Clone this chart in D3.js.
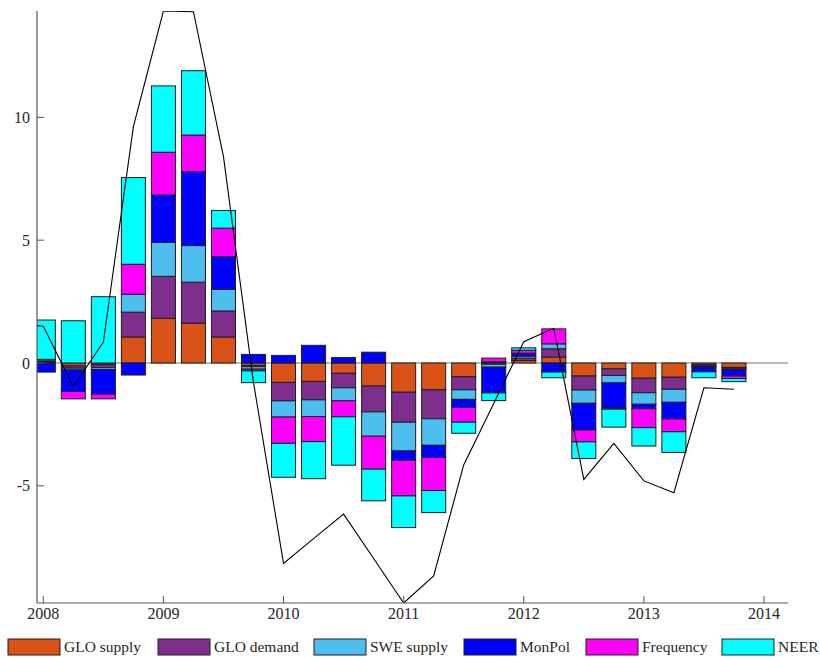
<!DOCTYPE html>
<html>
<head>
<meta charset="utf-8">
<script src="https://cdn.jsdelivr.net/npm/d3@7"></script>
<style>
  body { margin: 0; background: #fff; }
  svg { display: block; font-family: "Liberation Serif", "Times New Roman", serif; }
</style>
</head>
<body>
<svg id="chart" width="820" height="658"></svg>
<script>
// Quarterly decomposition, 2008Q1 - 2013Q4
const quarters = [
  2008.00, 2008.25, 2008.50, 2008.75,
  2009.00, 2009.25, 2009.50, 2009.75,
  2010.00, 2010.25, 2010.50, 2010.75,
  2011.00, 2011.25, 2011.50, 2011.75,
  2012.00, 2012.25, 2012.50, 2012.75,
  2013.00, 2013.25, 2013.50, 2013.75
];

const seriesNames = ["GLO supply", "GLO demand", "SWE supply", "MonPol", "Frequency", "NEER"];
const seriesColors = ["#D95319", "#7E2F8E", "#4DBEEE", "#0000FF", "#FF00FF", "#00FFFF"];

const gloSupply = [ 0.05, -0.11, -0.07, 1.06, 1.82, 1.62, 1.06, -0.10,
                   -0.79, -0.75, -0.42, -0.94, -1.19, -1.09, -0.56, -0.05,
                    0.10,  0.24, -0.53, -0.24, -0.62, -0.58, -0.07, -0.18];
const gloDemand = [ 0.04, -0.10, -0.12, 1.01, 1.71, 1.67, 1.06, -0.05,
                   -0.75, -0.75, -0.59, -1.05, -1.22, -1.18, -0.53,  0.05,
                    0.10,  0.34, -0.57, -0.27, -0.59, -0.49, -0.06, -0.06];
const sweSupply = [ 0.06, -0.07, -0.08, 0.73, 1.38, 1.49, 0.88, -0.10,
                   -0.66, -0.68, -0.53, -0.99, -1.17, -1.08, -0.39, -0.12,
                    0.08,  0.20, -0.54, -0.30, -0.47, -0.53, -0.03, -0.02];
const monPol    = [-0.37, -0.88, -1.00, -0.49, 1.93, 3.01, 1.33, 0.35,
                    0.31,  0.72,  0.22,  0.44, -0.38, -0.50, -0.33, -1.05,
                    0.12, -0.37, -1.09, -1.03, -0.18, -0.68, -0.20, -0.27];
const frequency = [ 0.00, -0.30, -0.19, 1.22, 1.74, 1.49, 1.16, -0.07,
                   -1.07, -1.02, -0.65, -1.34, -1.45, -1.34, -0.60,  0.15,
                    0.12,  0.61, -0.48, -0.04, -0.77, -0.52,  0.00, -0.10];
const neer      = [ 1.60,  1.72,  2.70, 3.53, 2.70, 2.62, 0.72, -0.48,
                   -1.38, -1.51, -1.97, -1.29, -1.29, -0.90, -0.45, -0.31,
                    0.10, -0.23, -0.68, -0.73, -0.75, -0.84, -0.24, -0.13];

const seriesValues = [gloSupply, gloDemand, sweSupply, monPol, frequency, neer];

// Total (line), starting one quarter before the first bar
const lineDates = [2007.75,
  2008.00, 2008.25, 2008.50, 2008.75,
  2009.00, 2009.25, 2009.50, 2009.75,
  2010.00, 2010.25, 2010.50, 2010.75,
  2011.00, 2011.25, 2011.50, 2011.75,
  2012.00, 2012.25, 2012.50, 2012.75,
  2013.00, 2013.25, 2013.50, 2013.75];
const lineValues = [1.60,
  1.50, -0.96, 0.85, 9.62,
  14.33, 14.30, 8.40, -0.80,
  -8.16, -7.15, -6.15, -7.96,
  -9.77, -8.67, -4.15, -1.65,
  0.87, 1.41, -4.74, -3.27,
  -4.80, -5.28, -1.01, -1.07];

const xTicks = [2008, 2009, 2010, 2011, 2012, 2013, 2014];
const yTicks = [-5, 0, 5, 10];

const svg = d3.select("#chart");
const plot = { left: 37, right: 788, top: 11, bottom: 603 };

const x = d3.scaleLinear().domain([2007.9475, 2014.2]).range([plot.left, plot.right]);
const y = d3.scaleLinear().domain([-9.77, 14.33]).range([plot.bottom, plot.top]);
const barWidth = x(2008.2) - x(2008);

svg.append("defs").append("clipPath").attr("id", "plotClip")
  .append("rect")
  .attr("x", plot.left).attr("y", plot.top)
  .attr("width", plot.right - plot.left).attr("height", plot.bottom - plot.top);

const inner = svg.append("g").attr("clip-path", "url(#plotClip)");

// zero reference line
inner.append("line")
  .attr("x1", plot.left).attr("x2", plot.right)
  .attr("y1", y(0)).attr("y2", y(0))
  .attr("stroke", "#777").attr("stroke-width", 1);

// stacked bars: positives build upward, negatives downward
const segments = [];
quarters.forEach((q, i) => {
  let pos = 0, neg = 0;
  seriesValues.forEach((vals, s) => {
    const v = vals[i];
    if (v === 0) return;
    let y0, y1;
    if (v > 0) { y0 = pos; y1 = pos + v; pos = y1; }
    else { y0 = neg; y1 = neg + v; neg = y1; }
    segments.push({ q, s, y0, y1 });
  });
});

inner.append("g").selectAll("rect")
  .data(segments)
  .join("rect")
  .attr("x", d => x(d.q) - barWidth / 2)
  .attr("width", barWidth)
  .attr("y", d => y(Math.max(d.y0, d.y1)))
  .attr("height", d => Math.abs(y(d.y0) - y(d.y1)))
  .attr("fill", d => seriesColors[d.s])
  .attr("stroke", "#1e1e1e")
  .attr("stroke-width", 1);

// total line
inner.append("path")
  .datum(lineDates.map((d, i) => [d, lineValues[i]]))
  .attr("fill", "none")
  .attr("stroke", "#000")
  .attr("stroke-width", 1.1)
  .attr("d", d3.line().x(d => x(d[0])).y(d => y(d[1])));

// axes
const axisColor = "#555";
const textColor = "#262626";

svg.append("line")
  .attr("x1", plot.left).attr("x2", plot.left)
  .attr("y1", plot.top).attr("y2", plot.bottom)
  .attr("stroke", axisColor).attr("stroke-width", 1.2);
svg.append("line")
  .attr("x1", plot.left).attr("x2", plot.right)
  .attr("y1", plot.bottom).attr("y2", plot.bottom)
  .attr("stroke", axisColor).attr("stroke-width", 1.2);

const xt = svg.append("g").selectAll("g").data(xTicks).join("g");
xt.append("line")
  .attr("x1", d => x(d)).attr("x2", d => x(d))
  .attr("y1", plot.bottom).attr("y2", plot.bottom - 7)
  .attr("stroke", axisColor);
xt.append("text")
  .attr("x", d => x(d)).attr("y", plot.bottom + 16)
  .attr("text-anchor", "middle")
  .attr("font-size", 16).attr("fill", textColor)
  .text(d => d);

const yt = svg.append("g").selectAll("g").data(yTicks).join("g");
yt.append("line")
  .attr("x1", plot.left).attr("x2", plot.left + 7)
  .attr("y1", d => y(d)).attr("y2", d => y(d))
  .attr("stroke", axisColor);
yt.append("text")
  .attr("x", 30).attr("y", d => y(d))
  .attr("dy", "0.35em")
  .attr("text-anchor", "end")
  .attr("font-size", 16).attr("fill", textColor)
  .text(d => d);

// legend along the bottom
const legendX = [8, 158, 314, 464, 586, 722];
const legend = svg.append("g");
seriesNames.forEach((name, s) => {
  const lx = legendX[s];
  legend.append("rect")
    .attr("x", lx).attr("y", 639)
    .attr("width", 52).attr("height", 16)
    .attr("fill", seriesColors[s])
    .attr("stroke", "#1e1e1e").attr("stroke-width", 1);
  legend.append("text")
    .attr("x", lx + 56).attr("y", 652)
    .attr("font-size", 15.5).attr("fill", textColor)
    .text(name);
});
</script>
</body>
</html>
